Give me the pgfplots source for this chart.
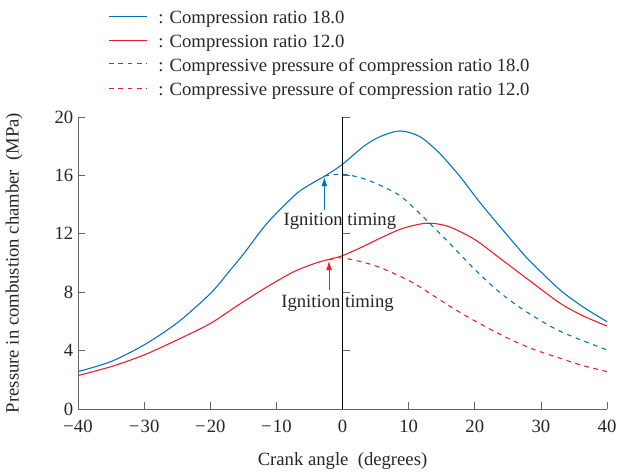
\documentclass[border=0pt]{standalone}
\usepackage{fontspec}
\setmainfont{Liberation Serif}
\usepackage{pgfplots}
\pgfplotsset{compat=1.18}
\usetikzlibrary{arrows.meta}
\definecolor{cblue}{RGB}{0,114,189}
\definecolor{cred}{RGB}{237,28,36}
\definecolor{axgray}{RGB}{100,100,100}
\definecolor{txt}{RGB}{38,38,38}
\tikzset{dashed curve/.style={dash pattern=on 3.5pt off 3.5pt}}

\begin{document}
\begin{tikzpicture}
\begin{axis}[
  scale only axis,
  width=396.75pt, height=219pt,
  xmin=-40, xmax=40, ymin=0, ymax=20,
  axis lines*=left,
  axis line style={axgray, line width=0.6pt},
  tick align=inside,
  major tick length=5.5pt,
  tick style={axgray, line width=0.6pt},
  xtick={-40,-30,...,40},
  xticklabels={−40,−\kern1pt30,−\kern1pt20,−\kern1pt10,0,10,20,30,40},
  ytick={0,4,...,20},
  /pgf/number format/assume math mode=true,
  font=\fontsize{14}{16}\selectfont,
  tick label style={font=\fontsize{14}{16}\selectfont, text=txt},
  xticklabel style={yshift=-4.5pt},
  xlabel={Crank angle\ \ (degrees)},
  ylabel={Pressure in combustion chamber\ \ (MPa)},
  xlabel style={at={(axis description cs:0.5,-0.18)}, anchor=center, text=txt},
  ylabel style={at={(axis description cs:-0.121,0.5)}, anchor=center, text=txt},
  clip=false,
]
% compression ratio 18.0
\addplot[color=cblue, line width=0.8pt, smooth] coordinates {
  (-40,2.56) (-35,3.25) (-30,4.39) (-25,5.9) (-20,7.9) (-17,9.5)
  (-15,10.6) (-12,12.4) (-10,13.4) (-6.9,14.77) (-5,15.35) (-2.4,16.03)
  (0,16.76) (3.15,17.97) (5.67,18.65) (8.7,19.04) (11.7,18.65) (14.7,17.5)
  (17.8,15.9) (20.5,14.3) (23.6,12.6) (26.8,10.9) (28.4,10.1) (32.9,8.15)
  (36.5,6.95) (40,5.98)
};
% compression ratio 12.0
\addplot[color=cred, line width=0.8pt, smooth] coordinates {
  (-40,2.29) (-35,2.9) (-30,3.7) (-25,4.73) (-20,5.85) (-16,7.05)
  (-12,8.2) (-9,9.0) (-6.9,9.5) (-4,10.0) (-2,10.25) (0,10.5)
  (3,11.1) (5.67,11.69) (9,12.35) (12.7,12.72) (16,12.5) (20,11.6)
  (23.8,10.32) (28.4,8.75) (32.9,7.24) (36.5,6.35) (40,5.68)
};
% compressive pressure 18.0
\addplot[color=cblue, line width=0.8pt, smooth, dashed curve] coordinates {
  (-2.75,15.95) (0,16.08) (3,15.8) (6,15.25) (9,14.5) (13,12.8)
  (16.5,11.2) (20,9.55) (24,7.9) (28,6.6) (33,5.3) (40,4.04)
};
% compressive pressure 12.0
\addplot[color=cred, line width=0.8pt, smooth, dashed curve] coordinates {
  (-2,10.2) (0,10.35) (5,9.8) (10,8.8) (13.2,7.92) (16,7.1) (19.3,6.21)
  (24.3,5.0) (28.5,4.15) (32.9,3.47) (36.5,2.95) (40,2.56)
};

% legend, drawn by hand above the axis
\draw[cblue, line width=0.8pt] (axis cs:-35.31,26.87) -- (axis cs:-29.57,26.87);
\draw[cred, line width=0.8pt] (axis cs:-35.31,25.23) -- (axis cs:-29.57,25.23);
\draw[cblue, line width=0.8pt, dashed curve] (axis cs:-35.31,23.63) -- (axis cs:-29.57,23.63);
\draw[cred, line width=0.8pt, dashed curve] (axis cs:-35.31,21.97) -- (axis cs:-29.57,21.97);
\node[anchor=base west, inner sep=0pt, text=txt] at (axis cs:-27.9,26.37) {: Compression ratio 18.0};
\node[anchor=base west, inner sep=0pt, text=txt] at (axis cs:-27.9,24.73) {: Compression ratio 12.0};
\node[anchor=base west, inner sep=0pt, text=txt] at (axis cs:-27.9,23.13) {: Compressive pressure of compression ratio 18.0};
\node[anchor=base west, inner sep=0pt, text=txt] at (axis cs:-27.9,21.47) {: Compressive pressure of compression ratio 12.0};

% zero line with its ticks
\draw[black, line width=0.7pt] (axis cs:0,0) -- (axis cs:0,20);
\pgfplotsinvokeforeach{4,8,12,16,20}{
  \draw[axgray, line width=0.6pt] (axis cs:0,#1) -- ++(5.5pt,0pt);
}

% ignition timing
\draw[cblue, line width=0.8pt, -{Latex[length=7pt,width=4.5pt]}] (axis cs:-2.75,13.6) -- (axis cs:-2.75,15.9);
\draw[cred, line width=0.8pt, -{Latex[length=7pt,width=4.5pt]}] (axis cs:-2.04,8.15) -- (axis cs:-2.04,10.15);
\node[inner sep=0.5pt, text=txt] at (axis cs:-0.4,12.83) {Ignition timing};
\node[inner sep=0.5pt, text=txt] at (axis cs:-0.75,7.24) {Ignition timing};

\coordinate (bl) at (axis cs:-51.8,-4.52);
\coordinate (tr) at (axis cs:41.66,28.01);
\end{axis}
\pgfresetboundingbox
\path (bl) rectangle (tr);
\end{tikzpicture}
\end{document}
